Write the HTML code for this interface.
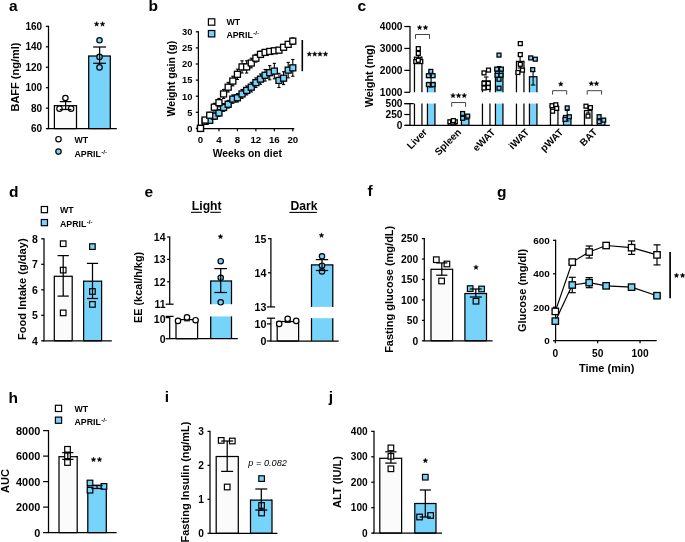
<!DOCTYPE html>
<html><head><meta charset="utf-8"><style>
html,body{margin:0;padding:0;background:#fff;width:685px;height:542px;overflow:hidden}
svg{display:block;filter:blur(0.35px)}
text{font-family:"Liberation Sans",sans-serif;fill:#000;stroke:none}

</style></head><body>
<svg width="685" height="542" viewBox="0 0 685 542">
<g stroke="#000" stroke-linecap="butt">
<text x="9.00" y="11.30" font-size="15.5" text-anchor="start" font-weight="bold">a</text>
<line x1="48.50" y1="25.75" x2="48.50" y2="128.60" stroke-width="1.25"/>
<line x1="45.90" y1="26.35" x2="48.50" y2="26.35" stroke-width="1.25"/>
<text x="42.20" y="29.95" font-size="10" text-anchor="end" font-weight="bold">160</text>
<line x1="45.90" y1="46.80" x2="48.50" y2="46.80" stroke-width="1.25"/>
<text x="42.20" y="50.40" font-size="10" text-anchor="end" font-weight="bold">140</text>
<line x1="45.90" y1="67.25" x2="48.50" y2="67.25" stroke-width="1.25"/>
<text x="42.20" y="70.85" font-size="10" text-anchor="end" font-weight="bold">120</text>
<line x1="45.90" y1="87.70" x2="48.50" y2="87.70" stroke-width="1.25"/>
<text x="42.20" y="91.30" font-size="10" text-anchor="end" font-weight="bold">100</text>
<line x1="45.90" y1="108.15" x2="48.50" y2="108.15" stroke-width="1.25"/>
<text x="42.20" y="111.75" font-size="10" text-anchor="end" font-weight="bold">80</text>
<line x1="45.90" y1="128.60" x2="48.50" y2="128.60" stroke-width="1.25"/>
<text x="42.20" y="132.20" font-size="10" text-anchor="end" font-weight="bold">60</text>
<rect x="54.40" y="105.70" width="22.10" height="22.90" fill="#FBFBFB" stroke="none"/>
<line x1="54.40" y1="105.08" x2="54.40" y2="128.60" stroke-width="1.25"/>
<line x1="76.50" y1="105.08" x2="76.50" y2="128.60" stroke-width="1.25"/>
<line x1="54.40" y1="105.70" x2="76.50" y2="105.70" stroke-width="1.25"/>
<line x1="54.40" y1="128.60" x2="76.50" y2="128.60" stroke-width="1.25"/>
<rect x="88.70" y="56.00" width="21.60" height="72.60" fill="#77D3FA" stroke="none"/>
<line x1="88.70" y1="55.38" x2="88.70" y2="128.60" stroke-width="1.25"/>
<line x1="110.30" y1="55.38" x2="110.30" y2="128.60" stroke-width="1.25"/>
<line x1="88.70" y1="56.00" x2="110.30" y2="56.00" stroke-width="1.25"/>
<line x1="88.70" y1="128.60" x2="110.30" y2="128.60" stroke-width="1.25"/>
<line x1="46.70" y1="128.60" x2="116.80" y2="128.60" stroke-width="1.25"/>
<circle cx="65.40" cy="98.00" r="2.70" fill="#fff" stroke-width="1.2"/>
<circle cx="59.50" cy="108.70" r="2.70" fill="#fff" stroke-width="1.2"/>
<circle cx="71.10" cy="108.70" r="2.70" fill="#fff" stroke-width="1.2"/>
<circle cx="99.50" cy="40.30" r="2.70" fill="#77D3FA" stroke-width="1.2"/>
<circle cx="99.50" cy="56.90" r="2.70" fill="#77D3FA" stroke-width="1.2"/>
<circle cx="99.50" cy="67.40" r="2.70" fill="#77D3FA" stroke-width="1.2"/>
<line x1="65.60" y1="101.60" x2="65.60" y2="109.50" stroke-width="1.25"/>
<line x1="59.80" y1="101.60" x2="71.40" y2="101.60" stroke-width="1.25"/>
<line x1="59.80" y1="109.50" x2="71.40" y2="109.50" stroke-width="1.25"/>
<line x1="99.60" y1="47.00" x2="99.60" y2="63.30" stroke-width="1.25"/>
<line x1="93.20" y1="47.00" x2="106.00" y2="47.00" stroke-width="1.25"/>
<line x1="93.20" y1="63.30" x2="106.00" y2="63.30" stroke-width="1.25"/>
<polygon points="96.60,21.50 97.29,23.15 99.07,23.30 97.71,24.46 98.13,26.20 96.60,25.27 95.07,26.20 95.49,24.46 94.13,23.30 95.91,23.15" fill="#000" stroke="#000" stroke-width="0.35" stroke-linejoin="round"/>
<polygon points="102.55,21.50 103.24,23.15 105.02,23.30 103.66,24.46 104.08,26.20 102.55,25.27 101.02,26.20 101.44,24.46 100.08,23.30 101.86,23.15" fill="#000" stroke="#000" stroke-width="0.35" stroke-linejoin="round"/>
<text x="18.80" y="77.00" font-size="11" text-anchor="middle" font-weight="bold" transform="rotate(-90 18.80 77.00)">BAFF (ng/ml)</text>
<circle cx="58.50" cy="139.20" r="2.70" fill="#fff" stroke-width="1.2"/>
<text x="74.50" y="143.00" font-size="8.8" text-anchor="start" font-weight="bold">WT</text>
<circle cx="58.50" cy="151.60" r="2.70" fill="#77D3FA" stroke-width="1.2"/>
<text x="74.50" y="157.00" font-size="8.8" font-weight="bold">APRIL<tspan font-size="6.2" dx="0.4" dy="-3.0" font-weight="bold">-/-</tspan></text>
<text x="148.50" y="11.00" font-size="15.5" text-anchor="start" font-weight="bold">b</text>
<line x1="198.40" y1="31.20" x2="198.40" y2="128.60" stroke-width="1.25"/>
<line x1="195.80" y1="31.80" x2="198.40" y2="31.80" stroke-width="1.25"/>
<text x="192.40" y="35.15" font-size="9.3" text-anchor="end" font-weight="bold">30</text>
<line x1="195.80" y1="47.90" x2="198.40" y2="47.90" stroke-width="1.25"/>
<text x="192.40" y="51.25" font-size="9.3" text-anchor="end" font-weight="bold">25</text>
<line x1="195.80" y1="64.00" x2="198.40" y2="64.00" stroke-width="1.25"/>
<text x="192.40" y="67.35" font-size="9.3" text-anchor="end" font-weight="bold">20</text>
<line x1="195.80" y1="80.10" x2="198.40" y2="80.10" stroke-width="1.25"/>
<text x="192.40" y="83.45" font-size="9.3" text-anchor="end" font-weight="bold">15</text>
<line x1="195.80" y1="96.20" x2="198.40" y2="96.20" stroke-width="1.25"/>
<text x="192.40" y="99.55" font-size="9.3" text-anchor="end" font-weight="bold">10</text>
<line x1="195.80" y1="112.30" x2="198.40" y2="112.30" stroke-width="1.25"/>
<text x="192.40" y="115.65" font-size="9.3" text-anchor="end" font-weight="bold">5</text>
<line x1="195.80" y1="128.40" x2="198.40" y2="128.40" stroke-width="1.25"/>
<text x="192.40" y="131.75" font-size="9.3" text-anchor="end" font-weight="bold">0</text>
<line x1="196.60" y1="128.60" x2="294.30" y2="128.60" stroke-width="1.25"/>
<line x1="200.50" y1="128.60" x2="200.50" y2="131.20" stroke-width="1.25"/>
<text x="200.50" y="143.10" font-size="9.7" text-anchor="middle" font-weight="bold">0</text>
<line x1="218.96" y1="128.60" x2="218.96" y2="131.20" stroke-width="1.25"/>
<text x="218.96" y="143.10" font-size="9.7" text-anchor="middle" font-weight="bold">4</text>
<line x1="237.42" y1="128.60" x2="237.42" y2="131.20" stroke-width="1.25"/>
<text x="237.42" y="143.10" font-size="9.7" text-anchor="middle" font-weight="bold">8</text>
<line x1="255.88" y1="128.60" x2="255.88" y2="131.20" stroke-width="1.25"/>
<text x="255.88" y="143.10" font-size="9.7" text-anchor="middle" font-weight="bold">12</text>
<line x1="274.34" y1="128.60" x2="274.34" y2="131.20" stroke-width="1.25"/>
<text x="274.34" y="143.10" font-size="9.7" text-anchor="middle" font-weight="bold">16</text>
<line x1="292.80" y1="128.60" x2="292.80" y2="131.20" stroke-width="1.25"/>
<text x="292.80" y="143.10" font-size="9.7" text-anchor="middle" font-weight="bold">20</text>
<text x="247.30" y="156.60" font-size="10.3" text-anchor="middle" font-weight="bold">Weeks on diet</text>
<text x="175.00" y="78.60" font-size="10.5" text-anchor="middle" font-weight="bold" transform="rotate(-90 175.00 78.60)">Weight gain (g)</text>
<line x1="205.12" y1="118.42" x2="205.12" y2="121.64" stroke-width="1.1"/>
<line x1="203.52" y1="118.42" x2="206.72" y2="118.42" stroke-width="1.1"/>
<line x1="203.52" y1="121.64" x2="206.72" y2="121.64" stroke-width="1.1"/>
<line x1="205.12" y1="119.71" x2="205.12" y2="122.93" stroke-width="1.1"/>
<line x1="203.52" y1="119.71" x2="206.72" y2="119.71" stroke-width="1.1"/>
<line x1="203.52" y1="122.93" x2="206.72" y2="122.93" stroke-width="1.1"/>
<line x1="209.73" y1="112.30" x2="209.73" y2="118.10" stroke-width="1.1"/>
<line x1="208.13" y1="112.30" x2="211.33" y2="112.30" stroke-width="1.1"/>
<line x1="208.13" y1="118.10" x2="211.33" y2="118.10" stroke-width="1.1"/>
<line x1="209.73" y1="117.77" x2="209.73" y2="122.93" stroke-width="1.1"/>
<line x1="208.13" y1="117.77" x2="211.33" y2="117.77" stroke-width="1.1"/>
<line x1="208.13" y1="122.93" x2="211.33" y2="122.93" stroke-width="1.1"/>
<line x1="214.34" y1="103.28" x2="214.34" y2="111.01" stroke-width="1.1"/>
<line x1="212.75" y1="103.28" x2="215.94" y2="103.28" stroke-width="1.1"/>
<line x1="212.75" y1="111.01" x2="215.94" y2="111.01" stroke-width="1.1"/>
<line x1="214.34" y1="112.94" x2="214.34" y2="119.38" stroke-width="1.1"/>
<line x1="212.75" y1="112.94" x2="215.94" y2="112.94" stroke-width="1.1"/>
<line x1="212.75" y1="119.38" x2="215.94" y2="119.38" stroke-width="1.1"/>
<line x1="218.96" y1="98.45" x2="218.96" y2="106.83" stroke-width="1.1"/>
<line x1="217.36" y1="98.45" x2="220.56" y2="98.45" stroke-width="1.1"/>
<line x1="217.36" y1="106.83" x2="220.56" y2="106.83" stroke-width="1.1"/>
<line x1="218.96" y1="109.40" x2="218.96" y2="116.49" stroke-width="1.1"/>
<line x1="217.36" y1="109.40" x2="220.56" y2="109.40" stroke-width="1.1"/>
<line x1="217.36" y1="116.49" x2="220.56" y2="116.49" stroke-width="1.1"/>
<line x1="223.57" y1="89.44" x2="223.57" y2="98.45" stroke-width="1.1"/>
<line x1="221.97" y1="89.44" x2="225.17" y2="89.44" stroke-width="1.1"/>
<line x1="221.97" y1="98.45" x2="225.17" y2="98.45" stroke-width="1.1"/>
<line x1="223.57" y1="103.61" x2="223.57" y2="111.33" stroke-width="1.1"/>
<line x1="221.97" y1="103.61" x2="225.17" y2="103.61" stroke-width="1.1"/>
<line x1="221.97" y1="111.33" x2="225.17" y2="111.33" stroke-width="1.1"/>
<line x1="228.19" y1="82.35" x2="228.19" y2="92.01" stroke-width="1.1"/>
<line x1="226.59" y1="82.35" x2="229.79" y2="82.35" stroke-width="1.1"/>
<line x1="226.59" y1="92.01" x2="229.79" y2="92.01" stroke-width="1.1"/>
<line x1="228.19" y1="100.39" x2="228.19" y2="108.11" stroke-width="1.1"/>
<line x1="226.59" y1="100.39" x2="229.79" y2="100.39" stroke-width="1.1"/>
<line x1="226.59" y1="108.11" x2="229.79" y2="108.11" stroke-width="1.1"/>
<line x1="232.81" y1="76.24" x2="232.81" y2="85.90" stroke-width="1.1"/>
<line x1="231.21" y1="76.24" x2="234.41" y2="76.24" stroke-width="1.1"/>
<line x1="231.21" y1="85.90" x2="234.41" y2="85.90" stroke-width="1.1"/>
<line x1="232.81" y1="94.91" x2="232.81" y2="103.28" stroke-width="1.1"/>
<line x1="231.21" y1="94.91" x2="234.41" y2="94.91" stroke-width="1.1"/>
<line x1="231.21" y1="103.28" x2="234.41" y2="103.28" stroke-width="1.1"/>
<line x1="237.42" y1="69.15" x2="237.42" y2="79.46" stroke-width="1.1"/>
<line x1="235.82" y1="69.15" x2="239.02" y2="69.15" stroke-width="1.1"/>
<line x1="235.82" y1="79.46" x2="239.02" y2="79.46" stroke-width="1.1"/>
<line x1="237.42" y1="93.62" x2="237.42" y2="102.00" stroke-width="1.1"/>
<line x1="235.82" y1="93.62" x2="239.02" y2="93.62" stroke-width="1.1"/>
<line x1="235.82" y1="102.00" x2="239.02" y2="102.00" stroke-width="1.1"/>
<line x1="242.03" y1="60.78" x2="242.03" y2="73.02" stroke-width="1.1"/>
<line x1="240.44" y1="60.78" x2="243.63" y2="60.78" stroke-width="1.1"/>
<line x1="240.44" y1="73.02" x2="243.63" y2="73.02" stroke-width="1.1"/>
<line x1="242.03" y1="89.44" x2="242.03" y2="98.45" stroke-width="1.1"/>
<line x1="240.44" y1="89.44" x2="243.63" y2="89.44" stroke-width="1.1"/>
<line x1="240.44" y1="98.45" x2="243.63" y2="98.45" stroke-width="1.1"/>
<line x1="246.65" y1="60.78" x2="246.65" y2="73.02" stroke-width="1.1"/>
<line x1="245.05" y1="60.78" x2="248.25" y2="60.78" stroke-width="1.1"/>
<line x1="245.05" y1="73.02" x2="248.25" y2="73.02" stroke-width="1.1"/>
<line x1="246.65" y1="85.90" x2="246.65" y2="94.91" stroke-width="1.1"/>
<line x1="245.05" y1="85.90" x2="248.25" y2="85.90" stroke-width="1.1"/>
<line x1="245.05" y1="94.91" x2="248.25" y2="94.91" stroke-width="1.1"/>
<line x1="251.26" y1="58.20" x2="251.26" y2="67.86" stroke-width="1.1"/>
<line x1="249.66" y1="58.20" x2="252.86" y2="58.20" stroke-width="1.1"/>
<line x1="249.66" y1="67.86" x2="252.86" y2="67.86" stroke-width="1.1"/>
<line x1="251.26" y1="82.35" x2="251.26" y2="92.01" stroke-width="1.1"/>
<line x1="249.66" y1="82.35" x2="252.86" y2="82.35" stroke-width="1.1"/>
<line x1="249.66" y1="92.01" x2="252.86" y2="92.01" stroke-width="1.1"/>
<line x1="255.88" y1="54.34" x2="255.88" y2="62.07" stroke-width="1.1"/>
<line x1="254.28" y1="54.34" x2="257.48" y2="54.34" stroke-width="1.1"/>
<line x1="254.28" y1="62.07" x2="257.48" y2="62.07" stroke-width="1.1"/>
<line x1="255.88" y1="77.85" x2="255.88" y2="87.51" stroke-width="1.1"/>
<line x1="254.28" y1="77.85" x2="257.48" y2="77.85" stroke-width="1.1"/>
<line x1="254.28" y1="87.51" x2="257.48" y2="87.51" stroke-width="1.1"/>
<line x1="260.50" y1="51.12" x2="260.50" y2="57.56" stroke-width="1.1"/>
<line x1="258.89" y1="51.12" x2="262.10" y2="51.12" stroke-width="1.1"/>
<line x1="258.89" y1="57.56" x2="262.10" y2="57.56" stroke-width="1.1"/>
<line x1="260.50" y1="73.98" x2="260.50" y2="84.29" stroke-width="1.1"/>
<line x1="258.89" y1="73.98" x2="262.10" y2="73.98" stroke-width="1.1"/>
<line x1="258.89" y1="84.29" x2="262.10" y2="84.29" stroke-width="1.1"/>
<line x1="265.11" y1="49.51" x2="265.11" y2="55.31" stroke-width="1.1"/>
<line x1="263.51" y1="49.51" x2="266.71" y2="49.51" stroke-width="1.1"/>
<line x1="263.51" y1="55.31" x2="266.71" y2="55.31" stroke-width="1.1"/>
<line x1="265.11" y1="69.47" x2="265.11" y2="81.07" stroke-width="1.1"/>
<line x1="263.51" y1="69.47" x2="266.71" y2="69.47" stroke-width="1.1"/>
<line x1="263.51" y1="81.07" x2="266.71" y2="81.07" stroke-width="1.1"/>
<line x1="269.73" y1="48.87" x2="269.73" y2="54.02" stroke-width="1.1"/>
<line x1="268.12" y1="48.87" x2="271.33" y2="48.87" stroke-width="1.1"/>
<line x1="268.12" y1="54.02" x2="271.33" y2="54.02" stroke-width="1.1"/>
<line x1="269.73" y1="65.61" x2="269.73" y2="79.78" stroke-width="1.1"/>
<line x1="268.12" y1="65.61" x2="271.33" y2="65.61" stroke-width="1.1"/>
<line x1="268.12" y1="79.78" x2="271.33" y2="79.78" stroke-width="1.1"/>
<line x1="274.34" y1="48.22" x2="274.34" y2="53.37" stroke-width="1.1"/>
<line x1="272.74" y1="48.22" x2="275.94" y2="48.22" stroke-width="1.1"/>
<line x1="272.74" y1="53.37" x2="275.94" y2="53.37" stroke-width="1.1"/>
<line x1="274.34" y1="63.36" x2="274.34" y2="78.81" stroke-width="1.1"/>
<line x1="272.74" y1="63.36" x2="275.94" y2="63.36" stroke-width="1.1"/>
<line x1="272.74" y1="78.81" x2="275.94" y2="78.81" stroke-width="1.1"/>
<line x1="278.95" y1="47.58" x2="278.95" y2="52.73" stroke-width="1.1"/>
<line x1="277.35" y1="47.58" x2="280.56" y2="47.58" stroke-width="1.1"/>
<line x1="277.35" y1="52.73" x2="280.56" y2="52.73" stroke-width="1.1"/>
<line x1="278.95" y1="73.34" x2="278.95" y2="87.51" stroke-width="1.1"/>
<line x1="277.35" y1="73.34" x2="280.56" y2="73.34" stroke-width="1.1"/>
<line x1="277.35" y1="87.51" x2="280.56" y2="87.51" stroke-width="1.1"/>
<line x1="283.57" y1="44.68" x2="283.57" y2="49.83" stroke-width="1.1"/>
<line x1="281.97" y1="44.68" x2="285.17" y2="44.68" stroke-width="1.1"/>
<line x1="281.97" y1="49.83" x2="285.17" y2="49.83" stroke-width="1.1"/>
<line x1="283.57" y1="71.73" x2="283.57" y2="84.61" stroke-width="1.1"/>
<line x1="281.97" y1="71.73" x2="285.17" y2="71.73" stroke-width="1.1"/>
<line x1="281.97" y1="84.61" x2="285.17" y2="84.61" stroke-width="1.1"/>
<line x1="288.19" y1="41.46" x2="288.19" y2="47.26" stroke-width="1.1"/>
<line x1="286.58" y1="41.46" x2="289.79" y2="41.46" stroke-width="1.1"/>
<line x1="286.58" y1="47.26" x2="289.79" y2="47.26" stroke-width="1.1"/>
<line x1="288.19" y1="62.39" x2="288.19" y2="77.85" stroke-width="1.1"/>
<line x1="286.58" y1="62.39" x2="289.79" y2="62.39" stroke-width="1.1"/>
<line x1="286.58" y1="77.85" x2="289.79" y2="77.85" stroke-width="1.1"/>
<line x1="292.80" y1="37.92" x2="292.80" y2="44.36" stroke-width="1.1"/>
<line x1="291.20" y1="37.92" x2="294.40" y2="37.92" stroke-width="1.1"/>
<line x1="291.20" y1="44.36" x2="294.40" y2="44.36" stroke-width="1.1"/>
<line x1="292.80" y1="59.49" x2="292.80" y2="76.24" stroke-width="1.1"/>
<line x1="291.20" y1="59.49" x2="294.40" y2="59.49" stroke-width="1.1"/>
<line x1="291.20" y1="76.24" x2="294.40" y2="76.24" stroke-width="1.1"/>
<rect x="197.50" y="125.40" width="6.00" height="6.00" fill="#77D3FA" stroke-width="1.3"/>
<rect x="202.12" y="118.32" width="6.00" height="6.00" fill="#77D3FA" stroke-width="1.3"/>
<rect x="206.73" y="117.35" width="6.00" height="6.00" fill="#77D3FA" stroke-width="1.3"/>
<rect x="211.34" y="113.16" width="6.00" height="6.00" fill="#77D3FA" stroke-width="1.3"/>
<rect x="215.96" y="109.94" width="6.00" height="6.00" fill="#77D3FA" stroke-width="1.3"/>
<rect x="220.57" y="104.47" width="6.00" height="6.00" fill="#77D3FA" stroke-width="1.3"/>
<rect x="225.19" y="101.25" width="6.00" height="6.00" fill="#77D3FA" stroke-width="1.3"/>
<rect x="229.81" y="96.10" width="6.00" height="6.00" fill="#77D3FA" stroke-width="1.3"/>
<rect x="234.42" y="94.81" width="6.00" height="6.00" fill="#77D3FA" stroke-width="1.3"/>
<rect x="239.03" y="90.95" width="6.00" height="6.00" fill="#77D3FA" stroke-width="1.3"/>
<rect x="243.65" y="87.40" width="6.00" height="6.00" fill="#77D3FA" stroke-width="1.3"/>
<rect x="248.26" y="84.18" width="6.00" height="6.00" fill="#77D3FA" stroke-width="1.3"/>
<rect x="252.88" y="79.68" width="6.00" height="6.00" fill="#77D3FA" stroke-width="1.3"/>
<rect x="257.50" y="76.13" width="6.00" height="6.00" fill="#77D3FA" stroke-width="1.3"/>
<rect x="262.11" y="72.27" width="6.00" height="6.00" fill="#77D3FA" stroke-width="1.3"/>
<rect x="266.73" y="69.69" width="6.00" height="6.00" fill="#77D3FA" stroke-width="1.3"/>
<rect x="271.34" y="68.08" width="6.00" height="6.00" fill="#77D3FA" stroke-width="1.3"/>
<rect x="275.95" y="77.42" width="6.00" height="6.00" fill="#77D3FA" stroke-width="1.3"/>
<rect x="280.57" y="75.17" width="6.00" height="6.00" fill="#77D3FA" stroke-width="1.3"/>
<rect x="285.19" y="67.12" width="6.00" height="6.00" fill="#77D3FA" stroke-width="1.3"/>
<rect x="289.80" y="64.86" width="6.00" height="6.00" fill="#77D3FA" stroke-width="1.3"/>
<rect x="197.50" y="125.40" width="6.00" height="6.00" fill="#fff" stroke-width="1.3"/>
<rect x="202.12" y="117.03" width="6.00" height="6.00" fill="#fff" stroke-width="1.3"/>
<rect x="206.73" y="112.20" width="6.00" height="6.00" fill="#fff" stroke-width="1.3"/>
<rect x="211.34" y="104.15" width="6.00" height="6.00" fill="#fff" stroke-width="1.3"/>
<rect x="215.96" y="99.64" width="6.00" height="6.00" fill="#fff" stroke-width="1.3"/>
<rect x="220.57" y="90.95" width="6.00" height="6.00" fill="#fff" stroke-width="1.3"/>
<rect x="225.19" y="84.18" width="6.00" height="6.00" fill="#fff" stroke-width="1.3"/>
<rect x="229.81" y="78.07" width="6.00" height="6.00" fill="#fff" stroke-width="1.3"/>
<rect x="234.42" y="71.30" width="6.00" height="6.00" fill="#fff" stroke-width="1.3"/>
<rect x="239.03" y="63.90" width="6.00" height="6.00" fill="#fff" stroke-width="1.3"/>
<rect x="243.65" y="63.90" width="6.00" height="6.00" fill="#fff" stroke-width="1.3"/>
<rect x="248.26" y="60.03" width="6.00" height="6.00" fill="#fff" stroke-width="1.3"/>
<rect x="252.88" y="55.20" width="6.00" height="6.00" fill="#fff" stroke-width="1.3"/>
<rect x="257.50" y="51.34" width="6.00" height="6.00" fill="#fff" stroke-width="1.3"/>
<rect x="262.11" y="49.41" width="6.00" height="6.00" fill="#fff" stroke-width="1.3"/>
<rect x="266.73" y="48.44" width="6.00" height="6.00" fill="#fff" stroke-width="1.3"/>
<rect x="271.34" y="47.80" width="6.00" height="6.00" fill="#fff" stroke-width="1.3"/>
<rect x="275.95" y="47.15" width="6.00" height="6.00" fill="#fff" stroke-width="1.3"/>
<rect x="280.57" y="44.26" width="6.00" height="6.00" fill="#fff" stroke-width="1.3"/>
<rect x="285.19" y="41.36" width="6.00" height="6.00" fill="#fff" stroke-width="1.3"/>
<rect x="289.80" y="38.14" width="6.00" height="6.00" fill="#fff" stroke-width="1.3"/>
<line x1="302.30" y1="40.00" x2="302.30" y2="71.20" stroke-width="1.6"/>
<polygon points="309.30,51.50 309.99,53.15 311.77,53.30 310.41,54.46 310.83,56.20 309.30,55.27 307.77,56.20 308.19,54.46 306.83,53.30 308.61,53.15" fill="#000" stroke="#000" stroke-width="0.35" stroke-linejoin="round"/>
<polygon points="314.70,51.50 315.39,53.15 317.17,53.30 315.81,54.46 316.23,56.20 314.70,55.27 313.17,56.20 313.59,54.46 312.23,53.30 314.01,53.15" fill="#000" stroke="#000" stroke-width="0.35" stroke-linejoin="round"/>
<polygon points="320.00,51.50 320.69,53.15 322.47,53.30 321.11,54.46 321.53,56.20 320.00,55.27 318.47,56.20 318.89,54.46 317.53,53.30 319.31,53.15" fill="#000" stroke="#000" stroke-width="0.35" stroke-linejoin="round"/>
<polygon points="325.50,51.50 326.19,53.15 327.97,53.30 326.61,54.46 327.03,56.20 325.50,55.27 323.97,56.20 324.39,54.46 323.03,53.30 324.81,53.15" fill="#000" stroke="#000" stroke-width="0.35" stroke-linejoin="round"/>
<rect x="208.40" y="18.80" width="6.40" height="6.40" fill="#fff" stroke-width="1.2"/>
<text x="226.40" y="25.30" font-size="8.8" text-anchor="start" font-weight="bold">WT</text>
<rect x="208.40" y="30.50" width="6.40" height="6.40" fill="#77D3FA" stroke-width="1.2"/>
<text x="226.40" y="37.90" font-size="8.8" font-weight="bold">APRIL<tspan font-size="6.2" dx="0.4" dy="-3.0" font-weight="bold">-/-</tspan></text>
<text x="357.50" y="11.30" font-size="15.5" text-anchor="start" font-weight="bold">c</text>
<line x1="410.00" y1="25.91" x2="410.00" y2="92.30" stroke-width="1.25"/>
<line x1="404.30" y1="26.51" x2="410.00" y2="26.51" stroke-width="1.25"/>
<text x="402.50" y="30.16" font-size="10.2" text-anchor="end" font-weight="bold">4000</text>
<line x1="404.30" y1="48.44" x2="410.00" y2="48.44" stroke-width="1.25"/>
<text x="402.50" y="52.09" font-size="10.2" text-anchor="end" font-weight="bold">3000</text>
<line x1="404.30" y1="70.37" x2="410.00" y2="70.37" stroke-width="1.25"/>
<text x="402.50" y="74.02" font-size="10.2" text-anchor="end" font-weight="bold">2000</text>
<line x1="404.30" y1="92.30" x2="410.00" y2="92.30" stroke-width="1.25"/>
<text x="402.50" y="95.95" font-size="10.2" text-anchor="end" font-weight="bold">1000</text>
<line x1="410.00" y1="103.60" x2="410.00" y2="125.40" stroke-width="1.25"/>
<line x1="404.30" y1="103.60" x2="413.70" y2="103.60" stroke-width="1.25"/>
<line x1="404.30" y1="103.60" x2="410.00" y2="103.60" stroke-width="1.25"/>
<text x="402.50" y="107.25" font-size="10.2" text-anchor="end" font-weight="bold">500</text>
<line x1="404.30" y1="114.50" x2="410.00" y2="114.50" stroke-width="1.25"/>
<text x="402.50" y="118.15" font-size="10.2" text-anchor="end" font-weight="bold">250</text>
<line x1="404.30" y1="125.40" x2="410.00" y2="125.40" stroke-width="1.25"/>
<text x="402.50" y="129.05" font-size="10.2" text-anchor="end" font-weight="bold">0</text>
<text x="372.90" y="76.00" font-size="10.9" text-anchor="middle" font-weight="bold" transform="rotate(-90 372.90 76.00)">Weight (mg)</text>
<rect x="414.45" y="103.60" width="7.50" height="21.80" fill="#FBFBFB" stroke="none"/>
<line x1="414.45" y1="103.60" x2="414.45" y2="125.40" stroke-width="1.25"/>
<line x1="421.95" y1="103.60" x2="421.95" y2="125.40" stroke-width="1.25"/>
<rect x="414.45" y="57.21" width="7.50" height="35.09" fill="#FBFBFB" stroke="none"/>
<line x1="414.45" y1="56.61" x2="414.45" y2="92.30" stroke-width="1.25"/>
<line x1="421.95" y1="56.61" x2="421.95" y2="92.30" stroke-width="1.25"/>
<line x1="414.45" y1="57.21" x2="421.95" y2="57.21" stroke-width="1.25"/>
<rect x="427.45" y="103.60" width="7.50" height="21.80" fill="#77D3FA" stroke="none"/>
<line x1="427.45" y1="103.60" x2="427.45" y2="125.40" stroke-width="1.25"/>
<line x1="434.95" y1="103.60" x2="434.95" y2="125.40" stroke-width="1.25"/>
<rect x="427.45" y="82.43" width="7.50" height="9.87" fill="#77D3FA" stroke="none"/>
<line x1="427.45" y1="81.83" x2="427.45" y2="92.30" stroke-width="1.25"/>
<line x1="434.95" y1="81.83" x2="434.95" y2="92.30" stroke-width="1.25"/>
<line x1="427.45" y1="82.43" x2="434.95" y2="82.43" stroke-width="1.25"/>
<text x="427.85" y="132.80" font-size="10" text-anchor="end" font-weight="bold" transform="rotate(-45 427.85 132.80)">Liver</text>
<rect x="448.45" y="120.60" width="7.50" height="4.80" fill="#FBFBFB" stroke="none"/>
<line x1="448.45" y1="119.98" x2="448.45" y2="125.40" stroke-width="1.25"/>
<line x1="455.95" y1="119.98" x2="455.95" y2="125.40" stroke-width="1.25"/>
<line x1="448.45" y1="120.60" x2="455.95" y2="120.60" stroke-width="1.25"/>
<line x1="448.45" y1="125.40" x2="455.95" y2="125.40" stroke-width="1.25"/>
<rect x="461.45" y="119.08" width="7.50" height="6.32" fill="#77D3FA" stroke="none"/>
<line x1="461.45" y1="118.45" x2="461.45" y2="125.40" stroke-width="1.25"/>
<line x1="468.95" y1="118.45" x2="468.95" y2="125.40" stroke-width="1.25"/>
<line x1="461.45" y1="119.08" x2="468.95" y2="119.08" stroke-width="1.25"/>
<line x1="461.45" y1="125.40" x2="468.95" y2="125.40" stroke-width="1.25"/>
<text x="461.85" y="132.80" font-size="10" text-anchor="end" font-weight="bold" transform="rotate(-45 461.85 132.80)">Spleen</text>
<rect x="482.45" y="103.60" width="7.50" height="21.80" fill="#FBFBFB" stroke="none"/>
<line x1="482.45" y1="103.60" x2="482.45" y2="125.40" stroke-width="1.25"/>
<line x1="489.95" y1="103.60" x2="489.95" y2="125.40" stroke-width="1.25"/>
<rect x="482.45" y="80.90" width="7.50" height="11.40" fill="#FBFBFB" stroke="none"/>
<line x1="482.45" y1="80.30" x2="482.45" y2="92.30" stroke-width="1.25"/>
<line x1="489.95" y1="80.30" x2="489.95" y2="92.30" stroke-width="1.25"/>
<line x1="482.45" y1="80.90" x2="489.95" y2="80.90" stroke-width="1.25"/>
<rect x="495.45" y="103.60" width="7.50" height="21.80" fill="#77D3FA" stroke="none"/>
<line x1="495.45" y1="103.60" x2="495.45" y2="125.40" stroke-width="1.25"/>
<line x1="502.95" y1="103.60" x2="502.95" y2="125.40" stroke-width="1.25"/>
<rect x="495.45" y="71.03" width="7.50" height="21.27" fill="#77D3FA" stroke="none"/>
<line x1="495.45" y1="70.43" x2="495.45" y2="92.30" stroke-width="1.25"/>
<line x1="502.95" y1="70.43" x2="502.95" y2="92.30" stroke-width="1.25"/>
<line x1="495.45" y1="71.03" x2="502.95" y2="71.03" stroke-width="1.25"/>
<text x="495.85" y="132.80" font-size="10" text-anchor="end" font-weight="bold" transform="rotate(-45 495.85 132.80)">eWAT</text>
<rect x="516.45" y="103.60" width="7.50" height="21.80" fill="#FBFBFB" stroke="none"/>
<line x1="516.45" y1="103.60" x2="516.45" y2="125.40" stroke-width="1.25"/>
<line x1="523.95" y1="103.60" x2="523.95" y2="125.40" stroke-width="1.25"/>
<rect x="516.45" y="61.38" width="7.50" height="30.92" fill="#FBFBFB" stroke="none"/>
<line x1="516.45" y1="60.78" x2="516.45" y2="92.30" stroke-width="1.25"/>
<line x1="523.95" y1="60.78" x2="523.95" y2="92.30" stroke-width="1.25"/>
<line x1="516.45" y1="61.38" x2="523.95" y2="61.38" stroke-width="1.25"/>
<rect x="529.45" y="103.60" width="7.50" height="21.80" fill="#77D3FA" stroke="none"/>
<line x1="529.45" y1="103.60" x2="529.45" y2="125.40" stroke-width="1.25"/>
<line x1="536.95" y1="103.60" x2="536.95" y2="125.40" stroke-width="1.25"/>
<rect x="529.45" y="76.73" width="7.50" height="15.57" fill="#77D3FA" stroke="none"/>
<line x1="529.45" y1="76.13" x2="529.45" y2="92.30" stroke-width="1.25"/>
<line x1="536.95" y1="76.13" x2="536.95" y2="92.30" stroke-width="1.25"/>
<line x1="529.45" y1="76.73" x2="536.95" y2="76.73" stroke-width="1.25"/>
<text x="529.85" y="132.80" font-size="10" text-anchor="end" font-weight="bold" transform="rotate(-45 529.85 132.80)">iWAT</text>
<rect x="550.45" y="105.43" width="7.50" height="19.97" fill="#FBFBFB" stroke="none"/>
<line x1="550.45" y1="104.81" x2="550.45" y2="125.40" stroke-width="1.25"/>
<line x1="557.95" y1="104.81" x2="557.95" y2="125.40" stroke-width="1.25"/>
<line x1="550.45" y1="105.43" x2="557.95" y2="105.43" stroke-width="1.25"/>
<line x1="550.45" y1="125.40" x2="557.95" y2="125.40" stroke-width="1.25"/>
<rect x="563.45" y="115.50" width="7.50" height="9.90" fill="#77D3FA" stroke="none"/>
<line x1="563.45" y1="114.88" x2="563.45" y2="125.40" stroke-width="1.25"/>
<line x1="570.95" y1="114.88" x2="570.95" y2="125.40" stroke-width="1.25"/>
<line x1="563.45" y1="115.50" x2="570.95" y2="115.50" stroke-width="1.25"/>
<line x1="563.45" y1="125.40" x2="570.95" y2="125.40" stroke-width="1.25"/>
<text x="563.85" y="132.80" font-size="10" text-anchor="end" font-weight="bold" transform="rotate(-45 563.85 132.80)">pWAT</text>
<rect x="584.45" y="110.58" width="7.50" height="14.82" fill="#FBFBFB" stroke="none"/>
<line x1="584.45" y1="109.95" x2="584.45" y2="125.40" stroke-width="1.25"/>
<line x1="591.95" y1="109.95" x2="591.95" y2="125.40" stroke-width="1.25"/>
<line x1="584.45" y1="110.58" x2="591.95" y2="110.58" stroke-width="1.25"/>
<line x1="584.45" y1="125.40" x2="591.95" y2="125.40" stroke-width="1.25"/>
<rect x="597.45" y="118.86" width="7.50" height="6.54" fill="#77D3FA" stroke="none"/>
<line x1="597.45" y1="118.23" x2="597.45" y2="125.40" stroke-width="1.25"/>
<line x1="604.95" y1="118.23" x2="604.95" y2="125.40" stroke-width="1.25"/>
<line x1="597.45" y1="118.86" x2="604.95" y2="118.86" stroke-width="1.25"/>
<line x1="597.45" y1="125.40" x2="604.95" y2="125.40" stroke-width="1.25"/>
<text x="597.85" y="132.80" font-size="10" text-anchor="end" font-weight="bold" transform="rotate(-45 597.85 132.80)">BAT</text>
<line x1="405.00" y1="125.40" x2="609.80" y2="125.40" stroke-width="1.25"/>
<line x1="418.20" y1="54.60" x2="418.20" y2="60.00" stroke-width="1.1"/>
<line x1="415.95" y1="54.60" x2="420.45" y2="54.60" stroke-width="1.1"/>
<line x1="415.95" y1="60.00" x2="420.45" y2="60.00" stroke-width="1.1"/>
<line x1="431.10" y1="77.50" x2="431.10" y2="87.00" stroke-width="1.1"/>
<line x1="428.85" y1="77.50" x2="433.35" y2="77.50" stroke-width="1.1"/>
<line x1="428.85" y1="87.00" x2="433.35" y2="87.00" stroke-width="1.1"/>
<line x1="486.20" y1="77.00" x2="486.20" y2="85.00" stroke-width="1.1"/>
<line x1="483.95" y1="77.00" x2="488.45" y2="77.00" stroke-width="1.1"/>
<line x1="483.95" y1="85.00" x2="488.45" y2="85.00" stroke-width="1.1"/>
<line x1="499.20" y1="66.50" x2="499.20" y2="75.50" stroke-width="1.1"/>
<line x1="496.95" y1="66.50" x2="501.45" y2="66.50" stroke-width="1.1"/>
<line x1="496.95" y1="75.50" x2="501.45" y2="75.50" stroke-width="1.1"/>
<line x1="520.10" y1="55.00" x2="520.10" y2="68.00" stroke-width="1.1"/>
<line x1="517.85" y1="55.00" x2="522.35" y2="55.00" stroke-width="1.1"/>
<line x1="517.85" y1="68.00" x2="522.35" y2="68.00" stroke-width="1.1"/>
<line x1="533.10" y1="71.50" x2="533.10" y2="85.00" stroke-width="1.1"/>
<line x1="530.85" y1="71.50" x2="535.35" y2="71.50" stroke-width="1.1"/>
<line x1="530.85" y1="85.00" x2="535.35" y2="85.00" stroke-width="1.1"/>
<line x1="567.20" y1="110.50" x2="567.20" y2="121.00" stroke-width="1.1"/>
<line x1="564.95" y1="110.50" x2="569.45" y2="110.50" stroke-width="1.1"/>
<line x1="564.95" y1="121.00" x2="569.45" y2="121.00" stroke-width="1.1"/>
<line x1="588.20" y1="108.00" x2="588.20" y2="113.00" stroke-width="1.1"/>
<line x1="585.95" y1="108.00" x2="590.45" y2="108.00" stroke-width="1.1"/>
<line x1="585.95" y1="113.00" x2="590.45" y2="113.00" stroke-width="1.1"/>
<rect x="416.35" y="46.65" width="3.90" height="3.90" fill="#fff" stroke-width="1.3"/>
<rect x="416.35" y="51.45" width="3.90" height="3.90" fill="#fff" stroke-width="1.3"/>
<rect x="413.85" y="59.65" width="3.90" height="3.90" fill="#fff" stroke-width="1.3"/>
<rect x="418.85" y="59.65" width="3.90" height="3.90" fill="#fff" stroke-width="1.3"/>
<rect x="416.35" y="58.35" width="3.90" height="3.90" fill="#fff" stroke-width="1.3"/>
<rect x="447.95" y="119.85" width="3.90" height="3.90" fill="#fff" stroke-width="1.3"/>
<rect x="453.35" y="119.85" width="3.90" height="3.90" fill="#fff" stroke-width="1.3"/>
<rect x="450.65" y="120.25" width="3.90" height="3.90" fill="#fff" stroke-width="1.3"/>
<rect x="451.45" y="118.65" width="3.90" height="3.90" fill="#fff" stroke-width="1.3"/>
<rect x="486.55" y="68.15" width="3.90" height="3.90" fill="#fff" stroke-width="1.3"/>
<rect x="482.05" y="70.95" width="3.90" height="3.90" fill="#fff" stroke-width="1.3"/>
<rect x="482.05" y="81.45" width="3.90" height="3.90" fill="#fff" stroke-width="1.3"/>
<rect x="486.35" y="81.45" width="3.90" height="3.90" fill="#fff" stroke-width="1.3"/>
<rect x="482.05" y="86.05" width="3.90" height="3.90" fill="#fff" stroke-width="1.3"/>
<rect x="486.35" y="85.55" width="3.90" height="3.90" fill="#fff" stroke-width="1.3"/>
<rect x="518.35" y="41.65" width="3.90" height="3.90" fill="#fff" stroke-width="1.3"/>
<rect x="518.35" y="52.65" width="3.90" height="3.90" fill="#fff" stroke-width="1.3"/>
<rect x="518.35" y="62.35" width="3.90" height="3.90" fill="#fff" stroke-width="1.3"/>
<rect x="515.95" y="70.55" width="3.90" height="3.90" fill="#fff" stroke-width="1.3"/>
<rect x="520.55" y="68.15" width="3.90" height="3.90" fill="#fff" stroke-width="1.3"/>
<rect x="550.05" y="103.75" width="3.90" height="3.90" fill="#fff" stroke-width="1.3"/>
<rect x="553.85" y="102.85" width="3.90" height="3.90" fill="#fff" stroke-width="1.3"/>
<rect x="550.65" y="109.25" width="3.90" height="3.90" fill="#fff" stroke-width="1.3"/>
<rect x="554.75" y="106.45" width="3.90" height="3.90" fill="#fff" stroke-width="1.3"/>
<rect x="584.05" y="104.25" width="3.90" height="3.90" fill="#fff" stroke-width="1.3"/>
<rect x="588.45" y="105.65" width="3.90" height="3.90" fill="#fff" stroke-width="1.3"/>
<rect x="586.05" y="114.15" width="3.90" height="3.90" fill="#fff" stroke-width="1.3"/>
<rect x="428.85" y="69.45" width="3.90" height="3.90" fill="#77D3FA" stroke-width="1.3"/>
<rect x="426.45" y="73.75" width="3.90" height="3.90" fill="#77D3FA" stroke-width="1.3"/>
<rect x="431.15" y="73.75" width="3.90" height="3.90" fill="#77D3FA" stroke-width="1.3"/>
<rect x="426.45" y="82.65" width="3.90" height="3.90" fill="#77D3FA" stroke-width="1.3"/>
<rect x="431.15" y="82.65" width="3.90" height="3.90" fill="#77D3FA" stroke-width="1.3"/>
<rect x="460.65" y="111.55" width="3.90" height="3.90" fill="#77D3FA" stroke-width="1.3"/>
<rect x="465.75" y="114.15" width="3.90" height="3.90" fill="#77D3FA" stroke-width="1.3"/>
<rect x="460.65" y="116.35" width="3.90" height="3.90" fill="#77D3FA" stroke-width="1.3"/>
<rect x="497.05" y="53.15" width="3.90" height="3.90" fill="#77D3FA" stroke-width="1.3"/>
<rect x="494.75" y="67.15" width="3.90" height="3.90" fill="#77D3FA" stroke-width="1.3"/>
<rect x="499.45" y="67.15" width="3.90" height="3.90" fill="#77D3FA" stroke-width="1.3"/>
<rect x="495.05" y="73.35" width="3.90" height="3.90" fill="#77D3FA" stroke-width="1.3"/>
<rect x="499.05" y="73.35" width="3.90" height="3.90" fill="#77D3FA" stroke-width="1.3"/>
<rect x="497.05" y="77.35" width="3.90" height="3.90" fill="#77D3FA" stroke-width="1.3"/>
<rect x="497.05" y="86.25" width="3.90" height="3.90" fill="#77D3FA" stroke-width="1.3"/>
<rect x="528.75" y="55.95" width="3.90" height="3.90" fill="#77D3FA" stroke-width="1.3"/>
<rect x="533.35" y="57.25" width="3.90" height="3.90" fill="#77D3FA" stroke-width="1.3"/>
<rect x="530.75" y="67.65" width="3.90" height="3.90" fill="#77D3FA" stroke-width="1.3"/>
<rect x="565.25" y="105.95" width="3.90" height="3.90" fill="#77D3FA" stroke-width="1.3"/>
<rect x="567.45" y="114.85" width="3.90" height="3.90" fill="#77D3FA" stroke-width="1.3"/>
<rect x="563.05" y="117.45" width="3.90" height="3.90" fill="#77D3FA" stroke-width="1.3"/>
<rect x="597.15" y="114.75" width="3.90" height="3.90" fill="#77D3FA" stroke-width="1.3"/>
<rect x="601.75" y="118.15" width="3.90" height="3.90" fill="#77D3FA" stroke-width="1.3"/>
<rect x="597.15" y="119.75" width="3.90" height="3.90" fill="#77D3FA" stroke-width="1.3"/>
<polyline points="415.50,38.80 415.50,34.50 429.50,34.50 429.50,38.80" fill="none" stroke="#444" stroke-width="1.0"/>
<polygon points="419.60,25.00 420.29,26.65 422.07,26.80 420.71,27.96 421.13,29.70 419.60,28.77 418.07,29.70 418.49,27.96 417.13,26.80 418.91,26.65" fill="#000" stroke="#000" stroke-width="0.35" stroke-linejoin="round"/>
<polygon points="425.50,25.00 426.19,26.65 427.97,26.80 426.61,27.96 427.03,29.70 425.50,28.77 423.97,29.70 424.39,27.96 423.03,26.80 424.81,26.65" fill="#000" stroke="#000" stroke-width="0.35" stroke-linejoin="round"/>
<polyline points="451.70,106.85 451.70,102.55 465.60,102.55 465.60,106.85" fill="none" stroke="#444" stroke-width="1.0"/>
<polygon points="453.00,93.05 453.69,94.70 455.47,94.85 454.11,96.01 454.53,97.75 453.00,96.82 451.47,97.75 451.89,96.01 450.53,94.85 452.31,94.70" fill="#000" stroke="#000" stroke-width="0.35" stroke-linejoin="round"/>
<polygon points="458.60,93.05 459.29,94.70 461.07,94.85 459.71,96.01 460.13,97.75 458.60,96.82 457.07,97.75 457.49,96.01 456.13,94.85 457.91,94.70" fill="#000" stroke="#000" stroke-width="0.35" stroke-linejoin="round"/>
<polygon points="464.25,93.05 464.94,94.70 466.72,94.85 465.36,96.01 465.78,97.75 464.25,96.82 462.72,97.75 463.14,96.01 461.78,94.85 463.56,94.70" fill="#000" stroke="#000" stroke-width="0.35" stroke-linejoin="round"/>
<polyline points="552.60,94.60 552.60,90.70 566.70,90.70 566.70,94.60" fill="none" stroke="#444" stroke-width="1.0"/>
<polygon points="560.80,81.50 561.49,83.15 563.27,83.30 561.91,84.46 562.33,86.20 560.80,85.27 559.27,86.20 559.69,84.46 558.33,83.30 560.11,83.15" fill="#000" stroke="#000" stroke-width="0.35" stroke-linejoin="round"/>
<polyline points="587.20,94.60 587.20,90.70 601.60,90.70 601.60,94.60" fill="none" stroke="#444" stroke-width="1.0"/>
<polygon points="591.30,81.10 591.99,82.75 593.77,82.90 592.41,84.06 592.83,85.80 591.30,84.87 589.77,85.80 590.19,84.06 588.83,82.90 590.61,82.75" fill="#000" stroke="#000" stroke-width="0.35" stroke-linejoin="round"/>
<polygon points="596.50,81.10 597.19,82.75 598.97,82.90 597.61,84.06 598.03,85.80 596.50,84.87 594.97,85.80 595.39,84.06 594.03,82.90 595.81,82.75" fill="#000" stroke="#000" stroke-width="0.35" stroke-linejoin="round"/>
<text x="9.00" y="196.80" font-size="15.5" text-anchor="start" font-weight="bold">d</text>
<rect x="41.30" y="206.50" width="6.20" height="6.20" fill="#fff" stroke-width="1.2"/>
<text x="60.00" y="213.10" font-size="8.8" text-anchor="start" font-weight="bold">WT</text>
<rect x="41.30" y="219.50" width="6.20" height="6.20" fill="#77D3FA" stroke-width="1.2"/>
<text x="60.00" y="227.10" font-size="8.8" font-weight="bold">APRIL<tspan font-size="6.2" dx="0.4" dy="-3.0" font-weight="bold">-/-</tspan></text>
<line x1="44.00" y1="238.20" x2="44.00" y2="340.80" stroke-width="1.25"/>
<line x1="41.20" y1="238.80" x2="44.00" y2="238.80" stroke-width="1.25"/>
<text x="37.90" y="242.58" font-size="10.5" text-anchor="end" font-weight="bold">8</text>
<line x1="41.20" y1="264.30" x2="44.00" y2="264.30" stroke-width="1.25"/>
<text x="37.90" y="268.08" font-size="10.5" text-anchor="end" font-weight="bold">7</text>
<line x1="41.20" y1="289.80" x2="44.00" y2="289.80" stroke-width="1.25"/>
<text x="37.90" y="293.58" font-size="10.5" text-anchor="end" font-weight="bold">6</text>
<line x1="41.20" y1="315.30" x2="44.00" y2="315.30" stroke-width="1.25"/>
<text x="37.90" y="319.08" font-size="10.5" text-anchor="end" font-weight="bold">5</text>
<line x1="41.20" y1="340.80" x2="44.00" y2="340.80" stroke-width="1.25"/>
<text x="37.90" y="344.58" font-size="10.5" text-anchor="end" font-weight="bold">4</text>
<rect x="54.30" y="276.30" width="17.90" height="64.50" fill="#FBFBFB" stroke="none"/>
<line x1="54.30" y1="275.68" x2="54.30" y2="340.80" stroke-width="1.25"/>
<line x1="72.20" y1="275.68" x2="72.20" y2="340.80" stroke-width="1.25"/>
<line x1="54.30" y1="276.30" x2="72.20" y2="276.30" stroke-width="1.25"/>
<line x1="54.30" y1="340.80" x2="72.20" y2="340.80" stroke-width="1.25"/>
<rect x="83.60" y="281.20" width="18.00" height="59.60" fill="#77D3FA" stroke="none"/>
<line x1="83.60" y1="280.57" x2="83.60" y2="340.80" stroke-width="1.25"/>
<line x1="101.60" y1="280.57" x2="101.60" y2="340.80" stroke-width="1.25"/>
<line x1="83.60" y1="281.20" x2="101.60" y2="281.20" stroke-width="1.25"/>
<line x1="83.60" y1="340.80" x2="101.60" y2="340.80" stroke-width="1.25"/>
<line x1="42.60" y1="340.80" x2="111.80" y2="340.80" stroke-width="1.25"/>
<rect x="60.40" y="240.90" width="5.60" height="5.60" fill="#fff" stroke-width="1.2"/>
<rect x="60.40" y="267.30" width="5.60" height="5.60" fill="#fff" stroke-width="1.2"/>
<rect x="60.40" y="310.10" width="5.60" height="5.60" fill="#fff" stroke-width="1.2"/>
<rect x="89.60" y="243.80" width="5.60" height="5.60" fill="#77D3FA" stroke-width="1.2"/>
<rect x="89.60" y="288.70" width="5.60" height="5.60" fill="#77D3FA" stroke-width="1.2"/>
<rect x="89.60" y="301.60" width="5.60" height="5.60" fill="#77D3FA" stroke-width="1.2"/>
<line x1="63.20" y1="255.60" x2="63.20" y2="296.10" stroke-width="1.25"/>
<line x1="57.60" y1="255.60" x2="68.80" y2="255.60" stroke-width="1.25"/>
<line x1="57.60" y1="296.10" x2="68.80" y2="296.10" stroke-width="1.25"/>
<line x1="92.50" y1="263.40" x2="92.50" y2="298.50" stroke-width="1.25"/>
<line x1="86.90" y1="263.40" x2="98.10" y2="263.40" stroke-width="1.25"/>
<line x1="86.90" y1="298.50" x2="98.10" y2="298.50" stroke-width="1.25"/>
<text x="26.00" y="289.20" font-size="11.1" text-anchor="middle" font-weight="bold" transform="rotate(-90 26.00 289.20)">Food Intake (g/day)</text>
<text x="144.50" y="197.00" font-size="15.5" text-anchor="start" font-weight="bold">e</text>
<text x="206.70" y="209.50" font-size="12.2" text-anchor="middle" font-weight="bold">Light</text>
<line x1="191.00" y1="212.30" x2="201.80" y2="212.30" stroke-width="1.1"/>
<line x1="210.30" y1="212.30" x2="220.80" y2="212.30" stroke-width="1.1"/>
<text x="304.00" y="209.60" font-size="12.2" text-anchor="middle" font-weight="bold">Dark</text>
<line x1="289.40" y1="212.40" x2="316.80" y2="212.40" stroke-width="1.1"/>
<line x1="169.70" y1="236.40" x2="169.70" y2="304.20" stroke-width="1.25"/>
<line x1="167.10" y1="237.00" x2="169.70" y2="237.00" stroke-width="1.25"/>
<text x="165.50" y="240.70" font-size="10.5" text-anchor="end" font-weight="bold">14</text>
<line x1="167.10" y1="259.40" x2="169.70" y2="259.40" stroke-width="1.25"/>
<text x="165.50" y="263.10" font-size="10.5" text-anchor="end" font-weight="bold">13</text>
<line x1="167.10" y1="281.80" x2="169.70" y2="281.80" stroke-width="1.25"/>
<text x="165.50" y="285.50" font-size="10.5" text-anchor="end" font-weight="bold">12</text>
<line x1="165.70" y1="304.20" x2="173.60" y2="304.20" stroke-width="1.25"/>
<text x="165.50" y="307.90" font-size="10.5" text-anchor="end" font-weight="bold">11</text>
<line x1="169.70" y1="316.40" x2="169.70" y2="338.70" stroke-width="1.25"/>
<line x1="165.70" y1="316.40" x2="173.60" y2="316.40" stroke-width="1.25"/>
<line x1="165.70" y1="317.60" x2="169.70" y2="317.60" stroke-width="1.25"/>
<text x="165.50" y="322.60" font-size="10.5" text-anchor="end" font-weight="bold">10</text>
<line x1="165.70" y1="338.70" x2="169.70" y2="338.70" stroke-width="1.25"/>
<text x="165.50" y="342.90" font-size="10.5" text-anchor="end" font-weight="bold">0</text>
<rect x="176.00" y="319.60" width="21.60" height="19.10" fill="#FBFBFB" stroke="none"/>
<line x1="176.00" y1="318.98" x2="176.00" y2="338.70" stroke-width="1.25"/>
<line x1="197.60" y1="318.98" x2="197.60" y2="338.70" stroke-width="1.25"/>
<line x1="176.00" y1="319.60" x2="197.60" y2="319.60" stroke-width="1.25"/>
<line x1="176.00" y1="338.70" x2="197.60" y2="338.70" stroke-width="1.25"/>
<rect x="210.7" y="316.4" width="20.8" height="22.3" fill="#77D3FA" stroke="none"/>
<line x1="210.70" y1="316.40" x2="210.70" y2="338.70" stroke-width="1.25"/>
<line x1="231.50" y1="316.40" x2="231.50" y2="338.70" stroke-width="1.25"/>
<rect x="210.7" y="281" width="20.8" height="23.2" fill="#77D3FA" stroke="none"/>
<line x1="210.70" y1="280.40" x2="210.70" y2="304.20" stroke-width="1.25"/>
<line x1="231.50" y1="280.40" x2="231.50" y2="304.20" stroke-width="1.25"/>
<line x1="210.70" y1="281.00" x2="231.50" y2="281.00" stroke-width="1.25"/>
<line x1="169.10" y1="338.70" x2="237.80" y2="338.70" stroke-width="1.25"/>
<line x1="187.00" y1="318.30" x2="187.00" y2="320.80" stroke-width="1.1"/>
<line x1="184.00" y1="318.30" x2="190.00" y2="318.30" stroke-width="1.1"/>
<line x1="184.00" y1="320.80" x2="190.00" y2="320.80" stroke-width="1.1"/>
<circle cx="178.00" cy="320.90" r="2.70" fill="#fff" stroke-width="1.2"/>
<circle cx="187.00" cy="317.40" r="2.70" fill="#fff" stroke-width="1.2"/>
<circle cx="195.60" cy="320.20" r="2.70" fill="#fff" stroke-width="1.2"/>
<circle cx="220.70" cy="261.20" r="2.70" fill="#77D3FA" stroke-width="1.2"/>
<circle cx="220.70" cy="277.80" r="2.70" fill="#77D3FA" stroke-width="1.2"/>
<circle cx="220.70" cy="302.30" r="2.70" fill="#77D3FA" stroke-width="1.2"/>
<line x1="220.70" y1="268.60" x2="220.70" y2="292.50" stroke-width="1.25"/>
<line x1="214.35" y1="268.60" x2="227.05" y2="268.60" stroke-width="1.25"/>
<line x1="214.35" y1="292.50" x2="227.05" y2="292.50" stroke-width="1.25"/>
<polygon points="220.50,234.10 221.19,235.75 222.97,235.90 221.61,237.06 222.03,238.80 220.50,237.87 218.97,238.80 219.39,237.06 218.03,235.90 219.81,235.75" fill="#000" stroke="#000" stroke-width="0.35" stroke-linejoin="round"/>
<text x="141.60" y="287.40" font-size="10.85" text-anchor="middle" font-weight="bold" transform="rotate(-90 141.60 287.40)">EE (kcal/h/kg)</text>
<line x1="270.90" y1="238.10" x2="270.90" y2="306.90" stroke-width="1.25"/>
<line x1="268.00" y1="238.70" x2="270.90" y2="238.70" stroke-width="1.25"/>
<text x="266.40" y="242.50" font-size="10.7" text-anchor="end" font-weight="bold">15</text>
<line x1="268.00" y1="272.80" x2="270.90" y2="272.80" stroke-width="1.25"/>
<text x="266.40" y="276.60" font-size="10.7" text-anchor="end" font-weight="bold">14</text>
<line x1="266.90" y1="306.90" x2="275.10" y2="306.90" stroke-width="1.25"/>
<text x="266.40" y="310.70" font-size="10.7" text-anchor="end" font-weight="bold">13</text>
<line x1="270.90" y1="318.20" x2="270.90" y2="341.00" stroke-width="1.25"/>
<line x1="266.90" y1="318.20" x2="275.10" y2="318.20" stroke-width="1.25"/>
<line x1="266.90" y1="323.90" x2="270.90" y2="323.90" stroke-width="1.25"/>
<text x="266.40" y="327.70" font-size="10.7" text-anchor="end" font-weight="bold">10</text>
<line x1="266.90" y1="341.00" x2="270.90" y2="341.00" stroke-width="1.25"/>
<text x="266.40" y="344.80" font-size="10.7" text-anchor="end" font-weight="bold">0</text>
<rect x="277.20" y="321.50" width="21.40" height="19.50" fill="#FBFBFB" stroke="none"/>
<line x1="277.20" y1="320.88" x2="277.20" y2="341.00" stroke-width="1.25"/>
<line x1="298.60" y1="320.88" x2="298.60" y2="341.00" stroke-width="1.25"/>
<line x1="277.20" y1="321.50" x2="298.60" y2="321.50" stroke-width="1.25"/>
<line x1="277.20" y1="341.00" x2="298.60" y2="341.00" stroke-width="1.25"/>
<rect x="311.5" y="318.2" width="21.3" height="22.8" fill="#77D3FA" stroke="none"/>
<line x1="311.50" y1="318.20" x2="311.50" y2="341.00" stroke-width="1.25"/>
<line x1="332.80" y1="318.20" x2="332.80" y2="341.00" stroke-width="1.25"/>
<rect x="311.5" y="264.9" width="21.3" height="42" fill="#77D3FA" stroke="none"/>
<line x1="311.50" y1="264.30" x2="311.50" y2="306.90" stroke-width="1.25"/>
<line x1="332.80" y1="264.30" x2="332.80" y2="306.90" stroke-width="1.25"/>
<line x1="311.50" y1="264.90" x2="332.80" y2="264.90" stroke-width="1.25"/>
<line x1="270.30" y1="341.00" x2="338.70" y2="341.00" stroke-width="1.25"/>
<line x1="287.70" y1="320.00" x2="287.70" y2="322.30" stroke-width="1.1"/>
<line x1="284.70" y1="320.00" x2="290.70" y2="320.00" stroke-width="1.1"/>
<line x1="284.70" y1="322.30" x2="290.70" y2="322.30" stroke-width="1.1"/>
<circle cx="279.20" cy="323.90" r="2.70" fill="#fff" stroke-width="1.2"/>
<circle cx="287.70" cy="318.80" r="2.70" fill="#fff" stroke-width="1.2"/>
<circle cx="296.20" cy="320.90" r="2.70" fill="#fff" stroke-width="1.2"/>
<circle cx="322.00" cy="256.30" r="2.70" fill="#77D3FA" stroke-width="1.2"/>
<circle cx="322.00" cy="265.70" r="2.70" fill="#77D3FA" stroke-width="1.2"/>
<circle cx="322.00" cy="271.40" r="2.70" fill="#77D3FA" stroke-width="1.2"/>
<line x1="322.00" y1="259.60" x2="322.00" y2="270.50" stroke-width="1.25"/>
<line x1="315.80" y1="259.60" x2="328.20" y2="259.60" stroke-width="1.25"/>
<line x1="315.80" y1="270.50" x2="328.20" y2="270.50" stroke-width="1.25"/>
<polygon points="321.50,232.80 322.19,234.45 323.97,234.60 322.61,235.76 323.03,237.50 321.50,236.57 319.97,237.50 320.39,235.76 319.03,234.60 320.81,234.45" fill="#000" stroke="#000" stroke-width="0.35" stroke-linejoin="round"/>
<text x="367.50" y="196.30" font-size="15.5" text-anchor="start" font-weight="bold">f</text>
<line x1="424.30" y1="238.00" x2="424.30" y2="340.80" stroke-width="1.25"/>
<line x1="421.90" y1="238.60" x2="424.30" y2="238.60" stroke-width="1.25"/>
<text x="418.30" y="242.31" font-size="10.3" text-anchor="end" font-weight="bold">250</text>
<line x1="421.90" y1="259.04" x2="424.30" y2="259.04" stroke-width="1.25"/>
<text x="418.30" y="262.75" font-size="10.3" text-anchor="end" font-weight="bold">200</text>
<line x1="421.90" y1="279.48" x2="424.30" y2="279.48" stroke-width="1.25"/>
<text x="418.30" y="283.19" font-size="10.3" text-anchor="end" font-weight="bold">150</text>
<line x1="421.90" y1="299.92" x2="424.30" y2="299.92" stroke-width="1.25"/>
<text x="418.30" y="303.63" font-size="10.3" text-anchor="end" font-weight="bold">100</text>
<line x1="421.90" y1="320.36" x2="424.30" y2="320.36" stroke-width="1.25"/>
<text x="418.30" y="324.07" font-size="10.3" text-anchor="end" font-weight="bold">50</text>
<line x1="421.90" y1="340.80" x2="424.30" y2="340.80" stroke-width="1.25"/>
<text x="418.30" y="344.51" font-size="10.3" text-anchor="end" font-weight="bold">0</text>
<rect x="431.00" y="269.30" width="21.60" height="71.50" fill="#FBFBFB" stroke="none"/>
<line x1="431.00" y1="268.68" x2="431.00" y2="340.80" stroke-width="1.25"/>
<line x1="452.60" y1="268.68" x2="452.60" y2="340.80" stroke-width="1.25"/>
<line x1="431.00" y1="269.30" x2="452.60" y2="269.30" stroke-width="1.25"/>
<line x1="431.00" y1="340.80" x2="452.60" y2="340.80" stroke-width="1.25"/>
<rect x="464.90" y="293.50" width="21.60" height="47.30" fill="#77D3FA" stroke="none"/>
<line x1="464.90" y1="292.88" x2="464.90" y2="340.80" stroke-width="1.25"/>
<line x1="486.50" y1="292.88" x2="486.50" y2="340.80" stroke-width="1.25"/>
<line x1="464.90" y1="293.50" x2="486.50" y2="293.50" stroke-width="1.25"/>
<line x1="464.90" y1="340.80" x2="486.50" y2="340.80" stroke-width="1.25"/>
<line x1="423.60" y1="340.80" x2="492.60" y2="340.80" stroke-width="1.25"/>
<rect x="433.50" y="256.90" width="5.60" height="5.60" fill="#fff" stroke-width="1.2"/>
<rect x="444.10" y="261.20" width="5.60" height="5.60" fill="#fff" stroke-width="1.2"/>
<rect x="438.80" y="278.20" width="5.60" height="5.60" fill="#fff" stroke-width="1.2"/>
<rect x="467.40" y="285.80" width="5.60" height="5.60" fill="#77D3FA" stroke-width="1.2"/>
<rect x="478.80" y="286.20" width="5.60" height="5.60" fill="#77D3FA" stroke-width="1.2"/>
<rect x="473.20" y="298.40" width="5.60" height="5.60" fill="#77D3FA" stroke-width="1.2"/>
<line x1="441.80" y1="262.90" x2="441.80" y2="275.20" stroke-width="1.25"/>
<line x1="436.20" y1="262.90" x2="447.40" y2="262.90" stroke-width="1.25"/>
<line x1="436.20" y1="275.20" x2="447.40" y2="275.20" stroke-width="1.25"/>
<line x1="475.80" y1="289.00" x2="475.80" y2="297.00" stroke-width="1.25"/>
<line x1="469.80" y1="289.00" x2="481.80" y2="289.00" stroke-width="1.25"/>
<line x1="469.80" y1="297.00" x2="481.80" y2="297.00" stroke-width="1.25"/>
<polygon points="476.00,264.80 476.69,266.45 478.47,266.60 477.11,267.76 477.53,269.50 476.00,268.57 474.47,269.50 474.89,267.76 473.53,266.60 475.31,266.45" fill="#000" stroke="#000" stroke-width="0.35" stroke-linejoin="round"/>
<text x="392.60" y="289.30" font-size="11" text-anchor="middle" font-weight="bold" transform="rotate(-90 392.60 289.30)">Fasting glucose (mg/dL)</text>
<text x="497.00" y="197.00" font-size="15.5" text-anchor="start" font-weight="bold">g</text>
<line x1="555.60" y1="239.72" x2="555.60" y2="340.70" stroke-width="1.25"/>
<line x1="553.00" y1="240.32" x2="555.60" y2="240.32" stroke-width="1.25"/>
<text x="549.70" y="243.88" font-size="9.9" text-anchor="end" font-weight="bold">600</text>
<line x1="553.00" y1="273.78" x2="555.60" y2="273.78" stroke-width="1.25"/>
<text x="549.70" y="277.34" font-size="9.9" text-anchor="end" font-weight="bold">400</text>
<line x1="553.00" y1="307.24" x2="555.60" y2="307.24" stroke-width="1.25"/>
<text x="549.70" y="310.80" font-size="9.9" text-anchor="end" font-weight="bold">200</text>
<line x1="553.00" y1="340.70" x2="555.60" y2="340.70" stroke-width="1.25"/>
<text x="549.70" y="344.26" font-size="9.9" text-anchor="end" font-weight="bold">0</text>
<line x1="555.10" y1="340.70" x2="656.70" y2="340.70" stroke-width="1.25"/>
<line x1="555.30" y1="340.70" x2="555.30" y2="343.30" stroke-width="1.25"/>
<text x="555.30" y="356.80" font-size="10.2" text-anchor="middle" font-weight="bold">0</text>
<line x1="597.67" y1="340.70" x2="597.67" y2="343.30" stroke-width="1.25"/>
<text x="597.67" y="356.80" font-size="10.2" text-anchor="middle" font-weight="bold">50</text>
<line x1="640.05" y1="340.70" x2="640.05" y2="343.30" stroke-width="1.25"/>
<text x="640.05" y="356.80" font-size="10.2" text-anchor="middle" font-weight="bold">100</text>
<text x="606.70" y="371.80" font-size="11" text-anchor="middle" font-weight="bold">Time (min)</text>
<text x="526.20" y="290.50" font-size="11" text-anchor="middle" font-weight="bold" transform="rotate(-90 526.20 290.50)">Glucose (mg/dl)</text>
<line x1="555.30" y1="310.08" x2="555.30" y2="312.76" stroke-width="1.2"/>
<line x1="551.80" y1="310.08" x2="558.80" y2="310.08" stroke-width="1.2"/>
<line x1="551.80" y1="312.76" x2="558.80" y2="312.76" stroke-width="1.2"/>
<line x1="572.25" y1="260.40" x2="572.25" y2="263.74" stroke-width="1.2"/>
<line x1="568.75" y1="260.40" x2="575.75" y2="260.40" stroke-width="1.2"/>
<line x1="568.75" y1="263.74" x2="575.75" y2="263.74" stroke-width="1.2"/>
<line x1="589.20" y1="246.01" x2="589.20" y2="258.05" stroke-width="1.2"/>
<line x1="585.70" y1="246.01" x2="592.70" y2="246.01" stroke-width="1.2"/>
<line x1="585.70" y1="258.05" x2="592.70" y2="258.05" stroke-width="1.2"/>
<line x1="606.15" y1="244.17" x2="606.15" y2="246.84" stroke-width="1.2"/>
<line x1="602.65" y1="244.17" x2="609.65" y2="244.17" stroke-width="1.2"/>
<line x1="602.65" y1="246.84" x2="609.65" y2="246.84" stroke-width="1.2"/>
<line x1="631.57" y1="240.99" x2="631.57" y2="254.37" stroke-width="1.2"/>
<line x1="628.07" y1="240.99" x2="635.07" y2="240.99" stroke-width="1.2"/>
<line x1="628.07" y1="254.37" x2="635.07" y2="254.37" stroke-width="1.2"/>
<line x1="657.00" y1="244.84" x2="657.00" y2="264.91" stroke-width="1.2"/>
<line x1="653.50" y1="244.84" x2="660.50" y2="244.84" stroke-width="1.2"/>
<line x1="653.50" y1="264.91" x2="660.50" y2="264.91" stroke-width="1.2"/>
<line x1="555.30" y1="320.12" x2="555.30" y2="322.13" stroke-width="1.2"/>
<line x1="551.80" y1="320.12" x2="558.80" y2="320.12" stroke-width="1.2"/>
<line x1="551.80" y1="322.13" x2="558.80" y2="322.13" stroke-width="1.2"/>
<line x1="572.25" y1="277.29" x2="572.25" y2="292.68" stroke-width="1.2"/>
<line x1="568.75" y1="277.29" x2="575.75" y2="277.29" stroke-width="1.2"/>
<line x1="568.75" y1="292.68" x2="575.75" y2="292.68" stroke-width="1.2"/>
<line x1="589.20" y1="277.63" x2="589.20" y2="287.67" stroke-width="1.2"/>
<line x1="585.70" y1="277.63" x2="592.70" y2="277.63" stroke-width="1.2"/>
<line x1="585.70" y1="287.67" x2="592.70" y2="287.67" stroke-width="1.2"/>
<line x1="606.15" y1="284.82" x2="606.15" y2="286.83" stroke-width="1.2"/>
<line x1="602.65" y1="284.82" x2="609.65" y2="284.82" stroke-width="1.2"/>
<line x1="602.65" y1="286.83" x2="609.65" y2="286.83" stroke-width="1.2"/>
<line x1="631.57" y1="286.16" x2="631.57" y2="288.17" stroke-width="1.2"/>
<line x1="628.07" y1="286.16" x2="635.07" y2="286.16" stroke-width="1.2"/>
<line x1="628.07" y1="288.17" x2="635.07" y2="288.17" stroke-width="1.2"/>
<line x1="657.00" y1="294.86" x2="657.00" y2="296.53" stroke-width="1.2"/>
<line x1="653.50" y1="294.86" x2="660.50" y2="294.86" stroke-width="1.2"/>
<line x1="653.50" y1="296.53" x2="660.50" y2="296.53" stroke-width="1.2"/>
<polyline points="555.30,321.13 572.25,284.99 589.20,282.65 606.15,285.83 631.57,287.16 657.00,295.70" fill="none" stroke-width="1.2"/>
<polyline points="555.30,311.42 572.25,262.07 589.20,252.03 606.15,245.51 631.57,247.68 657.00,254.88" fill="none" stroke-width="1.2"/>
<rect x="552.10" y="317.93" width="6.40" height="6.40" fill="#77D3FA" stroke-width="1.3"/>
<rect x="569.05" y="281.79" width="6.40" height="6.40" fill="#77D3FA" stroke-width="1.3"/>
<rect x="586.00" y="279.45" width="6.40" height="6.40" fill="#77D3FA" stroke-width="1.3"/>
<rect x="602.95" y="282.63" width="6.40" height="6.40" fill="#77D3FA" stroke-width="1.3"/>
<rect x="628.37" y="283.96" width="6.40" height="6.40" fill="#77D3FA" stroke-width="1.3"/>
<rect x="653.80" y="292.50" width="6.40" height="6.40" fill="#77D3FA" stroke-width="1.3"/>
<rect x="552.10" y="308.22" width="6.40" height="6.40" fill="#fff" stroke-width="1.3"/>
<rect x="569.05" y="258.87" width="6.40" height="6.40" fill="#fff" stroke-width="1.3"/>
<rect x="586.00" y="248.83" width="6.40" height="6.40" fill="#fff" stroke-width="1.3"/>
<rect x="602.95" y="242.31" width="6.40" height="6.40" fill="#fff" stroke-width="1.3"/>
<rect x="628.37" y="244.48" width="6.40" height="6.40" fill="#fff" stroke-width="1.3"/>
<rect x="653.80" y="251.68" width="6.40" height="6.40" fill="#fff" stroke-width="1.3"/>
<line x1="670.10" y1="252.10" x2="670.10" y2="298.20" stroke-width="1.7"/>
<polygon points="676.50,272.90 677.19,274.55 678.97,274.70 677.61,275.86 678.03,277.60 676.50,276.67 674.97,277.60 675.39,275.86 674.03,274.70 675.81,274.55" fill="#000" stroke="#000" stroke-width="0.35" stroke-linejoin="round"/>
<polygon points="682.60,272.90 683.29,274.55 685.07,274.70 683.71,275.86 684.13,277.60 682.60,276.67 681.07,277.60 681.49,275.86 680.13,274.70 681.91,274.55" fill="#000" stroke="#000" stroke-width="0.35" stroke-linejoin="round"/>
<text x="8.50" y="403.30" font-size="15.5" text-anchor="start" font-weight="bold">h</text>
<rect x="55.40" y="405.30" width="6.20" height="6.20" fill="#fff" stroke-width="1.2"/>
<text x="74.50" y="411.60" font-size="8.8" text-anchor="start" font-weight="bold">WT</text>
<rect x="55.40" y="417.10" width="6.20" height="6.20" fill="#77D3FA" stroke-width="1.2"/>
<text x="74.50" y="424.50" font-size="8.8" font-weight="bold">APRIL<tspan font-size="6.2" dx="0.4" dy="-3.0" font-weight="bold">-/-</tspan></text>
<line x1="48.50" y1="430.00" x2="48.50" y2="532.60" stroke-width="1.25"/>
<line x1="43.10" y1="430.60" x2="48.50" y2="430.60" stroke-width="1.25"/>
<text x="40.30" y="434.52" font-size="10.9" text-anchor="end" font-weight="bold">8000</text>
<line x1="43.10" y1="456.10" x2="48.50" y2="456.10" stroke-width="1.25"/>
<text x="40.30" y="460.02" font-size="10.9" text-anchor="end" font-weight="bold">6000</text>
<line x1="43.10" y1="481.60" x2="48.50" y2="481.60" stroke-width="1.25"/>
<text x="40.30" y="485.52" font-size="10.9" text-anchor="end" font-weight="bold">4000</text>
<line x1="43.10" y1="507.10" x2="48.50" y2="507.10" stroke-width="1.25"/>
<text x="40.30" y="511.02" font-size="10.9" text-anchor="end" font-weight="bold">2000</text>
<line x1="43.10" y1="532.60" x2="48.50" y2="532.60" stroke-width="1.25"/>
<text x="40.30" y="536.52" font-size="10.9" text-anchor="end" font-weight="bold">0</text>
<rect x="59.00" y="456.70" width="18.20" height="75.90" fill="#FBFBFB" stroke="none"/>
<line x1="59.00" y1="456.07" x2="59.00" y2="532.60" stroke-width="1.25"/>
<line x1="77.20" y1="456.07" x2="77.20" y2="532.60" stroke-width="1.25"/>
<line x1="59.00" y1="456.70" x2="77.20" y2="456.70" stroke-width="1.25"/>
<line x1="59.00" y1="532.60" x2="77.20" y2="532.60" stroke-width="1.25"/>
<rect x="87.80" y="485.30" width="18.50" height="47.30" fill="#77D3FA" stroke="none"/>
<line x1="87.80" y1="484.68" x2="87.80" y2="532.60" stroke-width="1.25"/>
<line x1="106.30" y1="484.68" x2="106.30" y2="532.60" stroke-width="1.25"/>
<line x1="87.80" y1="485.30" x2="106.30" y2="485.30" stroke-width="1.25"/>
<line x1="87.80" y1="532.60" x2="106.30" y2="532.60" stroke-width="1.25"/>
<line x1="47.80" y1="532.60" x2="116.60" y2="532.60" stroke-width="1.25"/>
<rect x="64.70" y="446.50" width="5.60" height="5.60" fill="#fff" stroke-width="1.2"/>
<rect x="64.70" y="453.00" width="5.60" height="5.60" fill="#fff" stroke-width="1.2"/>
<rect x="64.70" y="459.70" width="5.60" height="5.60" fill="#fff" stroke-width="1.2"/>
<rect x="87.20" y="480.20" width="5.60" height="5.60" fill="#77D3FA" stroke-width="1.2"/>
<rect x="87.20" y="487.40" width="5.60" height="5.60" fill="#77D3FA" stroke-width="1.2"/>
<rect x="101.20" y="483.60" width="5.60" height="5.60" fill="#77D3FA" stroke-width="1.2"/>
<line x1="67.80" y1="452.60" x2="67.80" y2="459.40" stroke-width="1.25"/>
<line x1="62.20" y1="452.60" x2="73.40" y2="452.60" stroke-width="1.25"/>
<line x1="62.20" y1="459.40" x2="73.40" y2="459.40" stroke-width="1.25"/>
<line x1="97.00" y1="485.50" x2="97.00" y2="488.50" stroke-width="1.25"/>
<line x1="91.40" y1="485.50" x2="102.60" y2="485.50" stroke-width="1.25"/>
<line x1="91.40" y1="488.50" x2="102.60" y2="488.50" stroke-width="1.25"/>
<polygon points="93.50,457.00 94.19,458.65 95.97,458.80 94.61,459.96 95.03,461.70 93.50,460.77 91.97,461.70 92.39,459.96 91.03,458.80 92.81,458.65" fill="#000" stroke="#000" stroke-width="0.35" stroke-linejoin="round"/>
<polygon points="99.50,457.00 100.19,458.65 101.97,458.80 100.61,459.96 101.03,461.70 99.50,460.77 97.97,461.70 98.39,459.96 97.03,458.80 98.81,458.65" fill="#000" stroke="#000" stroke-width="0.35" stroke-linejoin="round"/>
<text x="9.00" y="481.00" font-size="11" text-anchor="middle" font-weight="bold" transform="rotate(-90 9.00 481.00)">AUC</text>
<text x="164.70" y="402.40" font-size="15.5" text-anchor="start" font-weight="bold">i</text>
<line x1="210.00" y1="430.79" x2="210.00" y2="533.30" stroke-width="1.25"/>
<line x1="207.50" y1="431.39" x2="210.00" y2="431.39" stroke-width="1.25"/>
<text x="203.80" y="435.06" font-size="10.2" text-anchor="end" font-weight="bold">3</text>
<line x1="207.50" y1="465.36" x2="210.00" y2="465.36" stroke-width="1.25"/>
<text x="203.80" y="469.03" font-size="10.2" text-anchor="end" font-weight="bold">2</text>
<line x1="207.50" y1="499.33" x2="210.00" y2="499.33" stroke-width="1.25"/>
<text x="203.80" y="503.00" font-size="10.2" text-anchor="end" font-weight="bold">1</text>
<line x1="207.50" y1="533.30" x2="210.00" y2="533.30" stroke-width="1.25"/>
<text x="203.80" y="536.97" font-size="10.2" text-anchor="end" font-weight="bold">0</text>
<rect x="216.20" y="456.50" width="22.10" height="76.80" fill="#FBFBFB" stroke="none"/>
<line x1="216.20" y1="455.88" x2="216.20" y2="533.30" stroke-width="1.25"/>
<line x1="238.30" y1="455.88" x2="238.30" y2="533.30" stroke-width="1.25"/>
<line x1="216.20" y1="456.50" x2="238.30" y2="456.50" stroke-width="1.25"/>
<line x1="216.20" y1="533.30" x2="238.30" y2="533.30" stroke-width="1.25"/>
<rect x="250.50" y="500.10" width="21.50" height="33.20" fill="#77D3FA" stroke="none"/>
<line x1="250.50" y1="499.48" x2="250.50" y2="533.30" stroke-width="1.25"/>
<line x1="272.00" y1="499.48" x2="272.00" y2="533.30" stroke-width="1.25"/>
<line x1="250.50" y1="500.10" x2="272.00" y2="500.10" stroke-width="1.25"/>
<line x1="250.50" y1="533.30" x2="272.00" y2="533.30" stroke-width="1.25"/>
<line x1="209.60" y1="533.30" x2="277.40" y2="533.30" stroke-width="1.25"/>
<rect x="218.40" y="437.60" width="5.60" height="5.60" fill="#fff" stroke-width="1.2"/>
<rect x="229.50" y="438.20" width="5.60" height="5.60" fill="#fff" stroke-width="1.2"/>
<rect x="224.40" y="484.20" width="5.60" height="5.60" fill="#fff" stroke-width="1.2"/>
<rect x="258.80" y="475.80" width="5.60" height="5.60" fill="#77D3FA" stroke-width="1.2"/>
<rect x="258.80" y="502.70" width="5.60" height="5.60" fill="#77D3FA" stroke-width="1.2"/>
<rect x="258.80" y="510.20" width="5.60" height="5.60" fill="#77D3FA" stroke-width="1.2"/>
<line x1="227.20" y1="441.00" x2="227.20" y2="471.40" stroke-width="1.25"/>
<line x1="221.20" y1="441.00" x2="233.20" y2="441.00" stroke-width="1.25"/>
<line x1="221.20" y1="471.40" x2="233.20" y2="471.40" stroke-width="1.25"/>
<line x1="261.30" y1="489.00" x2="261.30" y2="510.00" stroke-width="1.25"/>
<line x1="255.30" y1="489.00" x2="267.30" y2="489.00" stroke-width="1.25"/>
<line x1="255.30" y1="510.00" x2="267.30" y2="510.00" stroke-width="1.25"/>
<text x="248.30" y="465.50" font-size="9.2" text-anchor="start" font-weight="normal" font-style="italic">p = 0.082</text>
<text x="189.00" y="482.00" font-size="11" text-anchor="middle" font-weight="bold" transform="rotate(-90 189.00 482.00)">Fasting Insulin (ng/mL)</text>
<text x="328.70" y="402.40" font-size="15.5" text-anchor="start" font-weight="bold">j</text>
<line x1="374.00" y1="430.78" x2="374.00" y2="533.10" stroke-width="1.25"/>
<line x1="371.20" y1="431.38" x2="374.00" y2="431.38" stroke-width="1.25"/>
<text x="367.70" y="435.02" font-size="10.1" text-anchor="end" font-weight="bold">400</text>
<line x1="371.20" y1="456.81" x2="374.00" y2="456.81" stroke-width="1.25"/>
<text x="367.70" y="460.45" font-size="10.1" text-anchor="end" font-weight="bold">300</text>
<line x1="371.20" y1="482.24" x2="374.00" y2="482.24" stroke-width="1.25"/>
<text x="367.70" y="485.88" font-size="10.1" text-anchor="end" font-weight="bold">200</text>
<line x1="371.20" y1="507.67" x2="374.00" y2="507.67" stroke-width="1.25"/>
<text x="367.70" y="511.31" font-size="10.1" text-anchor="end" font-weight="bold">100</text>
<line x1="371.20" y1="533.10" x2="374.00" y2="533.10" stroke-width="1.25"/>
<text x="367.70" y="536.74" font-size="10.1" text-anchor="end" font-weight="bold">0</text>
<rect x="379.80" y="458.30" width="21.80" height="74.80" fill="#FBFBFB" stroke="none"/>
<line x1="379.80" y1="457.68" x2="379.80" y2="533.10" stroke-width="1.25"/>
<line x1="401.60" y1="457.68" x2="401.60" y2="533.10" stroke-width="1.25"/>
<line x1="379.80" y1="458.30" x2="401.60" y2="458.30" stroke-width="1.25"/>
<line x1="379.80" y1="533.10" x2="401.60" y2="533.10" stroke-width="1.25"/>
<rect x="414.80" y="503.50" width="21.20" height="29.60" fill="#77D3FA" stroke="none"/>
<line x1="414.80" y1="502.88" x2="414.80" y2="533.10" stroke-width="1.25"/>
<line x1="436.00" y1="502.88" x2="436.00" y2="533.10" stroke-width="1.25"/>
<line x1="414.80" y1="503.50" x2="436.00" y2="503.50" stroke-width="1.25"/>
<line x1="414.80" y1="533.10" x2="436.00" y2="533.10" stroke-width="1.25"/>
<line x1="372.60" y1="533.10" x2="442.00" y2="533.10" stroke-width="1.25"/>
<rect x="388.10" y="445.10" width="5.60" height="5.60" fill="#fff" stroke-width="1.2"/>
<rect x="388.10" y="453.50" width="5.60" height="5.60" fill="#fff" stroke-width="1.2"/>
<rect x="388.10" y="466.00" width="5.60" height="5.60" fill="#fff" stroke-width="1.2"/>
<rect x="422.50" y="474.40" width="5.60" height="5.60" fill="#77D3FA" stroke-width="1.2"/>
<rect x="416.80" y="514.20" width="5.60" height="5.60" fill="#77D3FA" stroke-width="1.2"/>
<rect x="427.80" y="512.70" width="5.60" height="5.60" fill="#77D3FA" stroke-width="1.2"/>
<line x1="390.90" y1="451.80" x2="390.90" y2="463.10" stroke-width="1.25"/>
<line x1="385.30" y1="451.80" x2="396.50" y2="451.80" stroke-width="1.25"/>
<line x1="385.30" y1="463.10" x2="396.50" y2="463.10" stroke-width="1.25"/>
<line x1="425.30" y1="490.00" x2="425.30" y2="517.00" stroke-width="1.25"/>
<line x1="419.70" y1="490.00" x2="430.90" y2="490.00" stroke-width="1.25"/>
<line x1="419.70" y1="517.00" x2="430.90" y2="517.00" stroke-width="1.25"/>
<polygon points="425.40,458.10 426.09,459.75 427.87,459.90 426.51,461.06 426.93,462.80 425.40,461.87 423.87,462.80 424.29,461.06 422.93,459.90 424.71,459.75" fill="#000" stroke="#000" stroke-width="0.35" stroke-linejoin="round"/>
<text x="341.00" y="482.00" font-size="11" text-anchor="middle" font-weight="bold" transform="rotate(-90 341.00 482.00)">ALT (IU/L)</text>
</g></svg></body></html>
